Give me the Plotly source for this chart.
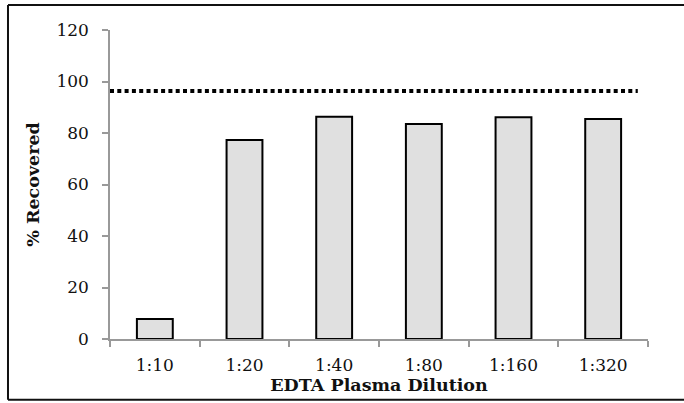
import plotly.graph_objects as go

categories = ["1:10", "1:20", "1:40", "1:80", "1:160", "1:320"]
recovered = [7.8, 77.3, 86.3, 83.5, 86.1, 85.4]
reference_level = 96.3
y_ticks = [0, 20, 40, 60, 80, 100, 120]

fig = go.Figure()
fig.add_trace(go.Bar(
    x=categories, y=recovered,
    marker=dict(color="#e0e0e0", line=dict(color="#000000", width=2)),
    width=0.4,
))

# dotted reference line
fig.add_shape(type="line", xref="paper", yref="y", x0=0, x1=0.981,
              y0=reference_level, y1=reference_level,
              line=dict(color="#000000", width=4, dash="4px,3.3px"))

# outer border (left, top, bottom only; right edge falls outside the image)
bx0, bx1, by0, by1 = -0.1896, 1.2, -0.197, 1.081
for (x0, y0, x1, y1) in [(bx0, by0, bx0, by1), (bx0, by1, bx1, by1), (bx0, by0, bx1, by0)]:
    fig.add_shape(type="line", xref="paper", yref="paper",
                  x0=x0, y0=y0, x1=x1, y1=y1,
                  line=dict(color="#111111", width=2), layer="below")

font_family = "DejaVu Serif"
fig.update_layout(
    width=684, height=403,
    margin=dict(l=110, r=36, t=30, b=64),
    paper_bgcolor="white", plot_bgcolor="white",
    showlegend=False,
    font=dict(family=font_family, color="#111111", size=17),
    bargap=0.6,
)
fig.update_xaxes(
    showline=True, linecolor="#999999", linewidth=1.5,
    ticks="outside", ticklen=6, tickcolor="#999999", tickwidth=1.5,
    tickson="boundaries", ticklabelstandoff=10,
    showgrid=False,
    tickfont=dict(family=font_family, size=17, color="#111111"),
    title=dict(text="<b>EDTA Plasma Dilution</b>", font=dict(family=font_family, size=17.5, color="#111111"), standoff=2),
)
fig.update_yaxes(
    range=[0, 120], tickvals=y_ticks,
    showline=True, linecolor="#999999", linewidth=1.5,
    ticks="outside", ticklen=6, tickcolor="#999999", tickwidth=1.5,
    ticklabelstandoff=10,
    showgrid=False, zeroline=False,
    tickfont=dict(family=font_family, size=17, color="#111111"),
    title=dict(text="<b>% Recovered</b>", font=dict(family=font_family, size=17.5, color="#111111"), standoff=12),
)

fig.write_html("out.html", config={"displayModeBar": False},
               post_script="document.body.style.margin='0';document.body.style.overflow='hidden';")
